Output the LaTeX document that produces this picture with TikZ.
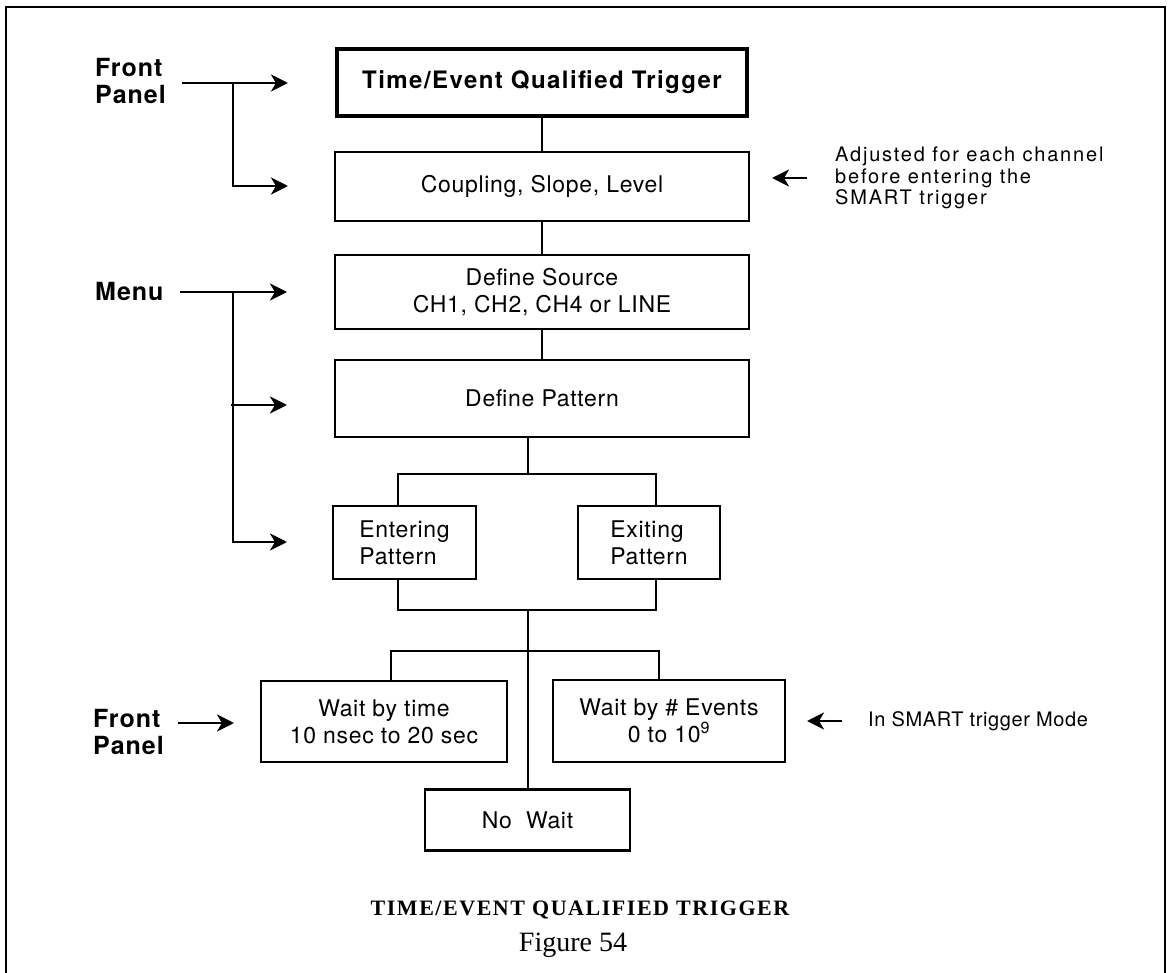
\documentclass[tikz,border=0pt]{standalone}
\usepackage{fontspec}
\setmainfont{TeX Gyre Heros}
\newfontfamily\boxfont[LetterSpace=3]{TeX Gyre Heros}
\newfontfamily\titlefont[LetterSpace=6]{TeX Gyre Heros}
\newfontfamily\lblfont[LetterSpace=4]{TeX Gyre Heros}
\newfontfamily\notefont[LetterSpace=9]{TeX Gyre Heros}
\newfontfamily\notefontb[LetterSpace=3]{TeX Gyre Heros}
\newfontfamily\serifcap[LetterSpace=7]{Liberation Serif}
\newfontfamily\seriffig{Liberation Serif}
\usetikzlibrary{arrows.meta}
\begin{document}
\begin{tikzpicture}[x=1pt,y=-1pt,
  box/.style={draw, line width=2.4pt, rectangle, inner sep=0pt, align=center, font=\boxfont\fontsize{23}{27}\selectfont},
  conn/.style={line width=2.6pt},
  arr/.style={line width=2.8pt, -{Stealth[length=17pt,width=17pt,inset=5pt]}},
  lbl/.style={font=\lblfont\fontsize{25}{27}\selectfont\bfseries, align=left, anchor=west, inner sep=0pt},
  note/.style={font=\notefont\fontsize{20}{21.5}\selectfont, align=left, anchor=west, inner sep=0pt}]
\useasboundingbox (0,0) rectangle (1168,973);
\fill[white] (0,0) rectangle (1168,973);
% frame
\draw[line width=2.5pt] (6,973) -- (6,7) -- (1165,7) -- (1165,973);
% main column
\node[box, line width=4.5pt, minimum width=410pt, minimum height=67pt, font=\titlefont\fontsize{24}{27}\selectfont\bfseries] (tq) at (542,82.5) {Time/Event Qualified Trigger};
\node[box, minimum width=414pt, minimum height=69pt] (csl) at (542,186.5) {Coupling, Slope, Level};
\node[box, minimum width=414pt, minimum height=74pt] (src) at (542,292) {Define Source\\CH1, CH2, CH4 or LINE};
\node[box, minimum width=414pt, minimum height=77pt] (pat) at (542,398.5) {Define Pattern};
\node[box, align=left, minimum width=143pt, minimum height=73pt] (ent) at (404.5,542.5) {Entering\\Pattern};
\node[box, align=left, minimum width=142pt, minimum height=73pt] (exi) at (649,542.5) {Exiting\\Pattern};
\node[box, minimum width=246pt, minimum height=81pt] (wt) at (384,721.5) {Wait by time\\10 nsec to 20 sec};
\node[box, minimum width=232pt, minimum height=82pt] (we) at (669,721) {Wait by \# Events\\0 to 10\textsuperscript{9}};
\node[box, minimum width=205pt, minimum height=61pt] (nw) at (527.5,820) {No\ \ Wait};
% connectors
\draw[conn] (tq.south) -- (csl.north);
\draw[conn] (csl.south) -- (src.north);
\draw[conn] (src.south) -- (pat.north);
\coordinate (f1) at (528,474);
\coordinate (f1l) at (398,474);
\coordinate (f1r) at (656,474);
\draw[conn] (pat.south -| f1) -- (f1);
\draw[conn] (ent.north -| f1l) -- (f1l) -- (f1r) -- (exi.north -| f1r);
\coordinate (j1) at (528,610);
\coordinate (j1l) at (398,610);
\coordinate (j1r) at (656,610);
\draw[conn] (ent.south -| j1l) -- (j1l) -- (j1r) -- (exi.south -| j1r);
\draw[conn] (j1) -- (nw.north -| j1);
\coordinate (f2) at (528,651);
\coordinate (f2l) at (391,651);
\coordinate (f2r) at (659,651);
\draw[conn] (wt.north -| f2l) -- (f2l) -- (f2r) -- (we.north -| f2r);
% left labels and arrows
\node[lbl] (fp1) at (95,81) {Front\\Panel};
\coordinate (a1s) at (182,83);
\coordinate (a1b) at (233,83);
\coordinate (a1e) at (288,83);
\coordinate (a2e) at (288,186);
\draw[arr] (a1s) -- (a1e);
\draw[arr] (a1b) |- (a2e);
\node[lbl] (mn) at (95,292) {Menu};
\coordinate (m0) at (180,292);
\coordinate (mb) at (233,292);
\coordinate (m1) at (287,292);
\coordinate (mb2) at (231,405);
\coordinate (m2) at (287,405);
\coordinate (m3) at (287,542);
\draw[arr] (m0) -- (m1);
\draw[arr] (mb) |- (m3);
\draw[arr] (mb2) -- (m2);
\node[lbl] (fp2) at (93,732) {Front\\Panel};
\coordinate (b0) at (178,723);
\coordinate (b1) at (234,723);
\draw[arr] (b0) -- (b1);
% right notes
\node[note] (n1) at (835,178) {Adjusted for each channel\\before entering the\\SMART trigger};
\coordinate (n1a) at (807,178);
\coordinate (n1b) at (772,178);
\draw[arr] (n1a) -- (n1b);
\node[note, font=\notefontb\fontsize{20}{21.5}\selectfont] (n2) at (868,721) {In SMART trigger Mode};
\coordinate (n2a) at (842,721);
\coordinate (n2b) at (807,721);
\draw[arr] (n2a) -- (n2b);
% caption
\node[font=\serifcap\bfseries\fontsize{22}{24}\selectfont] (cap) at (580,910) {TIME/EVENT QUALIFIED TRIGGER};
\node[font=\seriffig\fontsize{28}{30}\selectfont] (fig) at (573,945) {Figure 54};
\end{tikzpicture}
\end{document}
